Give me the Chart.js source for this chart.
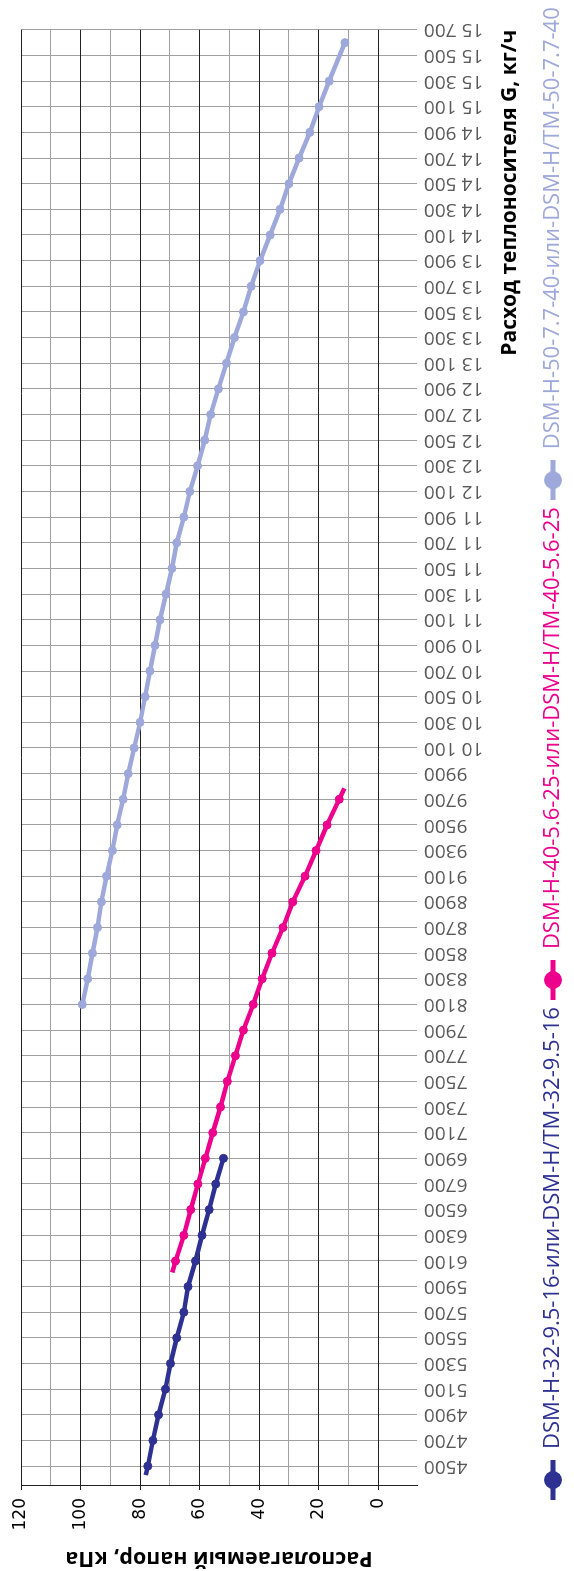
<!DOCTYPE html>
<html>
<head>
<meta charset="utf-8">
<script src="https://cdn.jsdelivr.net/npm/chart.js@4.4.1/dist/chart.umd.min.js"></script>
<style>
  html, body { margin: 0; padding: 0; background: #fff; overflow: hidden; }
  #wrap {
    position: absolute; left: 0; top: 0;
    width: 1571px; height: 574px;
    transform-origin: 0 0;
    transform: translateY(1571px) rotate(-90deg);
  }
</style>
</head>
<body>
<div id="wrap"><canvas id="chart" width="1571" height="574"></canvas></div>
<script>
// tick values
const flowTicks = [4500, 4700, 4900, 5100, 5300, 5500, 5700, 5900, 6100, 6300, 6500, 6700, 6900,
  7100, 7300, 7500, 7700, 7900, 8100, 8300, 8500, 8700, 8900, 9100, 9300, 9500, 9700, 9900,
  10100, 10300, 10500, 10700, 10900, 11100, 11300, 11500, 11700, 11900, 12100, 12300, 12500,
  12700, 12900, 13100, 13300, 13500, 13700, 13900, 14100, 14300, 14500, 14700, 14900, 15100,
  15300, 15500, 15700];
const headTicks = [0, 10, 20, 30, 40, 50, 60, 70, 80, 90, 100, 110, 120];

const seriesNames = [
  "DSM-H-32-9.5-16-или-DSM-H/TM-32-9.5-16",
  "DSM-H-40-5.6-25-или-DSM-H/TM-40-5.6-25",
  "DSM-H-50-7.7-40-или-DSM-H/TM-50-7.7-40"
];
const seriesColors = ["#2e3192", "#ec008c", "#9fa8da"];

// DSM-H-32
const flow32 = [4430, 4500, 4700, 4900, 5100, 5300, 5500, 5700, 5900, 6100, 6300, 6500, 6700, 6900];
const head32 = [78.1, 77.4, 75.7, 73.8, 71.5, 69.8, 67.7, 65.3, 63.9, 61.4, 59.2, 56.8, 54.6, 52.0];

// DSM-H-40
const flow40 = [6010, 6100, 6300, 6500, 6700, 6900, 7100, 7300, 7500, 7700, 7900, 8100, 8300,
  8500, 8700, 8900, 9100, 9300, 9500, 9700, 9785];
const head40 = [69.2, 68.1, 65.3, 63.0, 60.6, 58.1, 55.6, 53.0, 50.7, 48.0, 45.3, 42.0, 39.0,
  35.7, 32.0, 28.7, 24.6, 20.9, 17.2, 13.1, 11.4];

// DSM-H-50
const flow50 = [8100, 8300, 8500, 8700, 8900, 9100, 9300, 9500, 9700, 9900, 10100, 10300, 10500,
  10700, 10900, 11100, 11300, 11500, 11700, 11900, 12100, 12300, 12500, 12700, 12900, 13100,
  13300, 13500, 13700, 13900, 14100, 14300, 14500, 14700, 14900, 15100, 15300, 15600];
const head50 = [99.4, 97.6, 96.0, 94.3, 93.0, 91.3, 89.3, 87.7, 85.7, 84.0, 82.0, 80.0, 78.3,
  76.7, 75.0, 73.3, 71.3, 69.3, 67.7, 65.3, 63.3, 60.7, 58.3, 56.3, 53.7, 51.0,
  48.3, 45.3, 42.7, 39.7, 36.3, 33.0, 30.0, 26.6, 23.0, 19.9, 16.5, 11.2];

function pts(xs, ys) {
  return xs.map((x, i) => ({ x: x, y: ys[i] }));
}

// legend marker: short line with a dot
function marker(color) {
  const c = document.createElement("canvas");
  c.width = 40; c.height = 20;
  const g = c.getContext("2d");
  g.strokeStyle = color; g.lineWidth = 5;
  g.beginPath(); g.moveTo(0, 10); g.lineTo(40, 10); g.stroke();
  g.fillStyle = color;
  g.beginPath(); g.arc(20, 10, 9, 0, Math.PI * 2); g.fill();
  return c;
}

function fmtFlow(v) {
  if (v >= 10000) return Math.floor(v / 1000) + " " + String(v % 1000).padStart(3, "0");
  return String(v);
}

function makeSet(i, xs, ys, hideFirst, hideLast) {
  const r = xs.map((_, k) => ((hideFirst && k === 0) || (hideLast && k === xs.length - 1)) ? 0 : 4);
  return {
    label: seriesNames[i],
    data: pts(xs, ys),
    borderColor: seriesColors[i],
    backgroundColor: seriesColors[i],
    borderWidth: 4.5,
    pointRadius: r,
    pointBorderWidth: 1,
    tension: 0
  };
}

// legend row starts a bit right of the canvas edge, like the original
const legendPlace = {
  id: "legendPlace",
  beforeDraw(chart) {
    chart.legend.left = 64;
    chart.legend.right = 1600;
  }
};

new Chart(document.getElementById("chart"), {
  type: "line",
  data: {
    datasets: [
      makeSet(0, flow32, head32, true, false),
      makeSet(1, flow40, head40, true, true),
      makeSet(2, flow50, head50, false, false)
    ]
  },
  options: {
    responsive: false,
    animation: false,
    devicePixelRatio: 1,
    layout: { padding: { top: 21, right: 24, left: 0, bottom: 0 } },
    scales: {
      x: {
        type: "linear",
        min: 4345,
        max: 15700,
        afterBuildTicks: (s) => { s.ticks = flowTicks.map(v => ({ value: v })); },
        afterFit: (s) => { s.height = 118; },
        border: { display: false },
        grid: { color: "#a0a0a0", lineWidth: 1, drawTicks: false },
        ticks: {
          autoSkip: false,
          minRotation: 90,
          maxRotation: 90,
          padding: 7,
          color: "#595959",
          font: { family: "Open Sans", size: 19 },
          callback: (v) => fmtFlow(v)
        },
        title: {
          display: true,
          text: "Расход теплоносителя G, кг/ч",
          align: "end",
          color: "#000",
          font: { family: "Open Sans", size: 21, weight: "bold" },
          padding: { top: 0, bottom: 12 }
        }
      },
      y: {
        min: -13,
        max: 120,
        afterBuildTicks: (s) => { s.ticks = headTicks.map(v => ({ value: v })); },
        afterFit: (s) => { s.width = 85; },
        border: { display: true, color: "#222", width: 1 },
        grid: {
          color: (c) => (c.tick && c.tick.value % 20 === 0) ? "#222" : "#a0a0a0",
          tickColor: (c) => (c.tick && c.tick.value % 20 === 0) ? "#222" : "rgba(0,0,0,0)",
          tickLength: 4,
          lineWidth: 1
        },
        ticks: {
          padding: 8,
          color: "#000",
          font: { family: "DejaVu Sans", size: 17 },
          callback: (v) => (v % 20 === 0 ? String(v) : "")
        },
        title: {
          display: true,
          text: "Располагаемый напор, кПа",
          color: "#000",
          font: { family: "Open Sans", size: 21.5, weight: "bold" },
          padding: 0
        }
      }
    },
    plugins: {
      tooltip: { enabled: false },
      legend: {
        position: "bottom",
        align: "start",
        labels: {
          usePointStyle: true,
          pointStyleWidth: 40,
          boxHeight: 20,
          padding: 7,
          font: { family: "Open Sans", size: 22 },
          generateLabels: (chart) => chart.data.datasets.map((ds, i) => ({
            text: ds.label,
            fillStyle: ds.borderColor,
            strokeStyle: ds.borderColor,
            fontColor: ds.borderColor,
            lineWidth: 0,
            pointStyle: marker(ds.borderColor),
            hidden: false,
            datasetIndex: i
          }))
        }
      }
    }
  },
  plugins: [legendPlace]
});
</script>
</body>
</html>
